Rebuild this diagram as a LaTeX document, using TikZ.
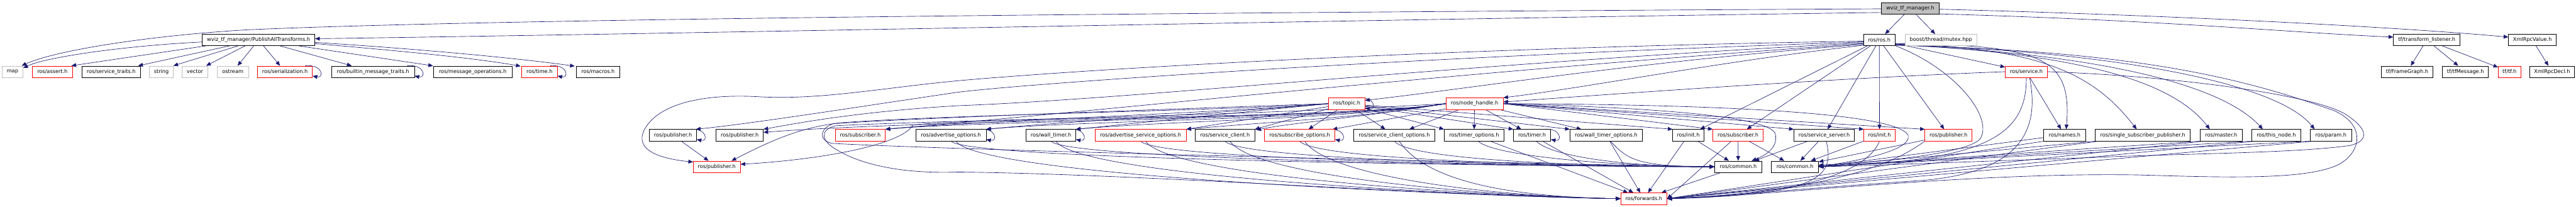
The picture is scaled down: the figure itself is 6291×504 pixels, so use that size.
\documentclass[tikz,border=0pt]{standalone}
\usepackage{fontspec}
\setmainfont{DejaVu Sans}
\usetikzlibrary{arrows.meta,calc}
\pgfdeclarelayer{back}
\pgfdeclarelayer{bg}
\pgfsetlayers{back,bg,main}
\definecolor{edgec}{HTML}{191970}
\definecolor{rootfill}{HTML}{BFBFBF}
\definecolor{grayb}{HTML}{BFBFBF}
\tikzset{
 nb/.style={draw=black, line width=0.75pt, fill=white, minimum height=21pt, inner sep=0pt, font=\fontsize{9.42pt}{11pt}\selectfont, text=black},
 nblk/.style={nb},
 nred/.style={nb, draw=red},
 ngry/.style={nb, draw=grayb},
 nroot/.style={nb, fill=rootfill},
 bw/.style={minimum width=#1*0.75pt},
 edg/.style={draw=edgec, line width=0.75pt, -{Triangle[length=8.5pt,width=7pt]}},
}
\newcommand\mysloop[1]{\draw[edg] ($(#1.north east)+(-18,0)$) .. controls ($(#1.north east)+(26,-4)$) and ($(#1.south east)+(28,2)$) .. ($(#1.south east)+(0,-4)$);}
\begin{document}
\begin{tikzpicture}[x=0.75pt,y=-0.75pt]
\begin{pgfonlayer}{back}
\fill[white] (0,0) rectangle (6291,504);
\end{pgfonlayer}
\useasboundingbox (0,0) rectangle (6291,504);
% row 0
\node[nroot, bw=140] (root) at (4665,20.5) {wviz\_tf\_manager.h};
% row 1
\node[nblk, bw=275] (pat) at (631.5,97.5) {wviz\_tf\_manager/PublishAllTransforms.h};
\node[nblk, bw=77] (ros) at (4589.5,97.5) {ros/ros.h};
\node[ngry, bw=176] (mutex) at (4740,97.5) {boost/thread/mutex.hpp};
\node[nblk, bw=163] (tl) at (5926.5,97.5) {tf/transform\_listener.h};
\node[nblk, bw=117] (xv) at (6184.5,97.5) {XmlRpcValue.h};
% row 2
\node[ngry, bw=52] (map) at (30.5,175) {map};
\node[nred, bw=98] (assert) at (128,175) {ros/assert.h};
\node[nblk, bw=143] (srvtraits) at (271.5,175) {ros/service\_traits.h};
\node[ngry, bw=58] (string) at (394,175) {string};
\node[ngry, bw=62] (vector) at (476,175) {vector};
\node[ngry, bw=77] (ostream) at (568.5,175) {ostream};
\node[nred, bw=134] (serial) at (696,175) {ros/serialization.h};
\node[nblk, bw=202] (bmt) at (911,175) {ros/builtin\_message\_traits.h};
\node[nblk, bw=193] (msgops) at (1154.5,175) {ros/message\_operations.h};
\node[nred, bw=87] (time) at (1317.5,175) {ros/time.h};
\node[nblk, bw=105] (macros) at (1460.5,175) {ros/macros.h};
\node[nred, bw=103] (service) at (4948.5,175) {ros/service.h};
\node[nblk, bw=125] (fg) at (5878.5,175) {tf/FrameGraph.h};
\node[nblk, bw=112] (tfmsg) at (6021,175) {tf/tfMessage.h};
\node[nred, bw=55] (tftf) at (6128.5,175) {tf/tf.h};
\node[nblk, bw=109] (xd) at (6232.5,175) {XmlRpcDecl.h};
% row 3
\node[nred, bw=88] (topic) at (3289,253) {ros/topic.h};
\node[nred, bw=140] (nh) at (3601,253) {ros/node\_handle.h};
% row 4
\node[nblk, bw=115] (pubA) at (1643.5,330) {ros/publisher.h};
\node[nblk, bw=115] (pubB) at (1806.5,330) {ros/publisher.h};
\node[nred, bw=122] (subA) at (2101,330) {ros/subscriber.h};
\node[nblk, bw=171] (advopt) at (2322.5,330) {ros/advertise\_options.h};
\node[nblk, bw=121] (wtimer) at (2566.5,330) {ros/wall\_timer.h};
\node[nred, bw=223] (asopt) at (2785.5,330) {ros/advertise\_service\_options.h};
\node[nblk, bw=145] (sclient) at (2991.5,330) {ros/service\_client.h};
\node[nred, bw=172] (subopt) at (3174,330) {ros/subscribe\_options.h};
\node[nblk, bw=198] (scopt) at (3405,330) {ros/service\_client\_options.h};
\node[nblk, bw=146] (topt) at (3600,330) {ros/timer\_options.h};
\node[nblk, bw=91] (timer) at (3741.5,330) {ros/timer.h};
\node[nblk, bw=177] (wtopt) at (3922.5,330) {ros/wall\_timer\_options.h};
\node[nblk, bw=76] (initA) at (4123,330) {ros/init.h};
\node[nred, bw=123] (subB) at (4244.5,330) {ros/subscriber.h};
\node[nblk, bw=148] (sserver) at (4455,330) {ros/service\_server.h};
\node[nred, bw=76] (initB) at (4590,330) {ros/init.h};
\node[nred, bw=115] (pubC) at (4758.5,330) {ros/publisher.h};
\node[nblk, bw=102] (names) at (5042,330) {ros/names.h};
\node[nblk, bw=232] (ssp) at (5233,330) {ros/single\_subscriber\_publisher.h};
\node[nblk, bw=103] (master) at (5424.5,330) {ros/master.h};
\node[nblk, bw=120] (thisnode) at (5559,330) {ros/this\_node.h};
\node[nblk, bw=101] (param) at (5692.5,330) {ros/param.h};
% row 5
\node[nred, bw=115] (pubD) at (1750.5,407) {ros/publisher.h};
\node[nblk, bw=116] (comA) at (4245,407) {ros/common.h};
\node[nblk, bw=115] (comB) at (4383.5,407) {ros/common.h};
% row 6
\node[nred, bw=113] (fwd) at (4014.5,485) {ros/forwards.h};

\begin{pgfonlayer}{bg}
% root
\draw[edg] (root) -- (ros);
\draw[edg] (root) -- (mutex);
\draw[edg] ($(root.east)+(0,2)$) .. controls (5400,40) and (5900,70) .. ($(xv.west)+(0,-7)$);
\draw[edg] ($(root.south east)+(0,-1)$) .. controls (5300,50) and (5600,80) .. ($(tl.west)+(0,-7)$);
\draw[edg] ($(root.west)+(0,10)$) .. controls (3500,45) and (1800,80) .. ($(pat.east)+(0,-3)$);
\draw[edg] ($(root.west)+(0,1)$) .. controls (3000,30) and (1200,45) .. (600,73) .. controls (350,88) and (130,125) .. ($(map.north east)+(-4,0)$);
% PublishAllTransforms
\draw[edg] ($(pat.west)+(0,5)$) .. controls (300,112) and (110,140) .. ($(map.east)+(0,-9)$);
\draw[edg] ($(pat.south west)+(9,0)$) -- ($(assert.north east)+(-3,0)$);
\draw[edg] ($(pat.south west)+(67,0)$) -- ($(srvtraits.north east)+(-6,0)$);
\draw[edg] ($(pat.south west)+(88,0)$) -- (string.north east);
\draw[edg] ($(pat.south west)+(105,0)$) -- ($(vector.north east)+(-4,0)$);
\draw[edg] (pat) -- (ostream);
\draw[edg] (pat) -- (serial);
\draw[edg] (pat) -- (bmt);
\draw[edg] (pat) -- (msgops);
\draw[edg] ($(pat.east)+(0,6)$) .. controls (1000,118) and (1250,140) .. ($(macros.north west)+(-4,1)$);
\draw[edg] ($(pat.east)+(0,9)$) .. controls (950,122) and (1150,140) .. ($(time.north west)+(-2,1)$);
\mysloop{serial}
\mysloop{bmt}
\mysloop{time}
% tf
\draw[edg] (tl) -- (fg);
\draw[edg] (tl) -- (tfmsg);
\draw[edg] (tl) -- (tftf);
\draw[edg] (xv) -- (xd);
% ros.h
\draw[edg] (ros) -- (initA);
\draw[edg] (ros) -- (subB);
\draw[edg] (ros) -- (sserver);
\draw[edg] (ros) -- (initB);
\draw[edg] (ros) -- (pubC);
\draw[edg] (ros) -- (service);
\draw[edg] ($(ros.east)+(0,9)$) .. controls (4990,110) and (5060,140) .. ($(names.north)+(4,0)$);
\draw[edg] ($(ros.east)+(0,10)$) .. controls (5000,115) and (5120,190) .. ($(ssp.north)+(-15,0)$);
\draw[edg] ($(ros.east)+(0,11)$) .. controls (5050,130) and (5300,190) .. ($(master.north)+(-28,0)$);
\draw[edg] ($(ros.east)+(0,12)$) .. controls (5100,130) and (5420,200) .. ($(thisnode.north)+(-33,0)$);
\draw[edg] ($(ros.east)+(0,12)$) .. controls (5150,125) and (5560,200) .. ($(param.north)+(-40,0)$);
\draw[edg] ($(ros.east)+(0,13)$) .. controls (5250,125) and (5500,200) .. (5700,270) .. controls (5790,310) and (5760,390) .. (5690,410) .. controls (5600,440) and (5400,432) .. (5220,427) .. controls (4800,420) and (4300,480) .. (fwd.east);
\draw[edg] ($(ros.east)+(0,14)$) .. controls (4780,170) and (4870,290) .. (4835,340) .. controls (4800,375) and (4600,395) .. ($(comB.east)+(0,-4)$);
\draw[edg] ($(ros.west)+(0,3)$) .. controls (3600,115) and (2700,165) .. (2340,197) .. controls (2150,215) and (2000,245) .. (1850,236) .. controls (1700,228) and (1600,260) .. (1572,320) .. controls (1550,370) and (1620,388) .. ($(pubD.north west)+(0,3)$);
\draw[edg] ($(ros.west)+(0,5)$) .. controls (3400,140) and (2500,205) .. (2340,225) .. controls (2100,260) and (1850,300) .. ($(pubA.north east)+(-2,0)$);
\draw[edg] ($(ros.west)+(0,7)$) .. controls (3500,160) and (2800,240) .. (2340,258) .. controls (2100,272) and (1950,300) .. (pubB.north east);
\draw[edg] ($(ros.west)+(0,9)$) .. controls (3500,180) and (2700,270) .. (subA.north east);
\draw[edg] ($(ros.west)+(0,11)$) .. controls (4000,150) and (3600,215) .. ($(topic.east)+(0,-8)$);
\draw[edg] ($(ros.west)+(0,13)$) .. controls (4200,150) and (3900,210) .. (nh.north east);
% service.h
\draw[edg] (service.west) .. controls (4500,190) and (4000,225) .. ($(nh.east)+(0,-4)$);
\draw[edg] (service) -- (names);
\draw[edg] (service.east) .. controls (5300,185) and (5650,230) .. (5730,280) .. controls (5790,320) and (5780,345) .. (5740,355) .. controls (5600,375) and (5300,375) .. (5100,385) .. controls (4800,395) and (4550,405) .. (comB.east);
\draw[edg] (service.south) .. controls (4950,330) and (4850,395) .. ($(comB.east)+(0,-2)$);
\draw[edg] ($(service.south)+(8,0)$) .. controls (4985,330) and (4920,420) .. (4700,440) .. controls (4400,460) and (4200,480) .. (fwd.east);
% topic / node_handle mass to the left
\draw[edg] (nh.west) .. controls (3300,290) and (2300,290) .. ($(pubB.east)+(0,-7)$);
\draw[edg] (nh.west) .. controls (3300,290) and (2400,285) .. (2230,305) .. controls (2200,355) and (2000,390) .. ($(pubD.east)+(0,-6)$);
\draw[edg] (topic.west) .. controls (3000,270) and (2300,280) .. (2050,300) .. controls (1950,312) and (1880,345) .. ($(pubD.north east)+(-22,0)$);
\foreach \t in {subA,advopt,wtimer,asopt}{
 \draw[edg] (nh.west) .. controls (3300,290) and ($(\t.north east)+(250,-22)$) .. (\t.north east);
}
\foreach \t in {subA,advopt,wtimer}{
 \draw[edg] (topic.west) .. controls (3050,272) and ($(\t.north east)+(180,-18)$) .. (\t.north east);
}
\draw[edg] (topic) -- (asopt.north east);
\draw[edg] (topic) -- (sclient.north east);
\draw[edg] (nh.west) .. controls (3300,290) and (3150,300) .. ($(sclient.north east)+(4,2)$);
\draw[edg] (nh) -- (subopt);
\draw[edg] (nh) -- (scopt);
\draw[edg] (nh) -- (topt);
\draw[edg] (nh) -- (timer);
\draw[edg] (nh) -- (wtopt);
\draw[edg] (topic) -- (subopt);
\draw[edg] (topic) -- (scopt);
\draw[edg] (topic) -- (topt.north west);
\draw[edg] (topic) -- (timer.north west);
\draw[edg] (topic) -- (wtopt.north west);
\draw[edg] (topic) -- (initA.north west);
\draw[edg] (nh.east) -- (subB.north west);
\draw[edg] (nh.east) -- (sserver.north west);
\draw[edg] (nh.east) -- (initB.north west);
\draw[edg] (nh.east) -- (pubC.north west);
\draw[edg] (nh.east) .. controls (4000,262) and (4310,280) .. (4335,325) .. controls (4345,360) and (4310,380) .. ($(comA.north)+(33,0)$);
\draw[edg] (nh.east) .. controls (4200,255) and (4630,275) .. (4660,330) .. controls (4670,370) and (4520,395) .. (comB.east);
\draw[edg] (topic.west) .. controls (2800,268) and (2200,290) .. (2035,302) .. controls (2005,312) and (1995,340) .. (2031,350) .. controls (2300,365) and (3500,395) .. (comA.west);
\draw[edg] (nh.west) .. controls (3000,285) and (2300,293) .. (2040,307) .. controls (2000,318) and (2005,345) .. (2046,367) .. controls (2100,400) and (2200,425) .. (2340,420) .. controls (2800,425) and (3500,478) .. (fwd.west);
% row 4 left -> common / forwards
\draw[edg] (pubA) -- (pubD);
\foreach \t in {advopt,wtimer,asopt,sclient,subopt,scopt}{
 \draw[edg] (\t.south) .. controls +(40,50) and +(-250,0) .. (comA.west);
 \draw[edg] ($(\t.south)+(12,0)$) .. controls +(60,90) and +(-300,-5) .. (fwd.west);
}
\foreach \t in {topt,timer,wtopt}{
 \draw[edg] (\t) -- (fwd);
 \draw[edg] ($(\t.south)+(10,0)$) .. controls +(40,40) and +(-200,0) .. (comA.west);
}
% row 4 right -> common / forwards
\draw[edg] (initA) -- (comA);
\draw[edg] (initA) -- (fwd);
\draw[edg] (subB) -- (comA);
\draw[edg] (subB) -- (comB);
\draw[edg] (subB) -- (fwd.east);
\draw[edg] (sserver) -- (comA);
\draw[edg] (sserver) -- (comB);
\draw[edg] ($(sserver.south)+(5,0)$) .. controls (4480,430) and (4450,475) .. (fwd.east);
\draw[edg] (initB) -- (comB);
\draw[edg] (initB.south) .. controls (4560,420) and (4400,475) .. (fwd.east);
\draw[edg] (pubC) -- (comB);
\draw[edg] (pubC.south west) .. controls (4600,420) and (4400,470) .. (fwd.east);
\draw[edg] ($(names.west)+(0,6)$) -- (comB.east);
\draw[edg] ($(names.south west)+(2,0)$) -- (fwd.east);
\foreach \t in {ssp,master,thisnode,param}{
 \draw[edg] ($(\t.south west)+(3,0)$) -- (comB.east);
 \draw[edg] ($(\t.south west)+(10,0)$) -- (fwd.east);
}
\draw[edg] (comA) -- (fwd);
% self loops
\mysloop{pubA}
\mysloop{advopt}
\mysloop{wtimer}
\mysloop{subopt}
\mysloop{timer}
\mysloop{topic}
\end{pgfonlayer}
\end{tikzpicture}
\end{document}
